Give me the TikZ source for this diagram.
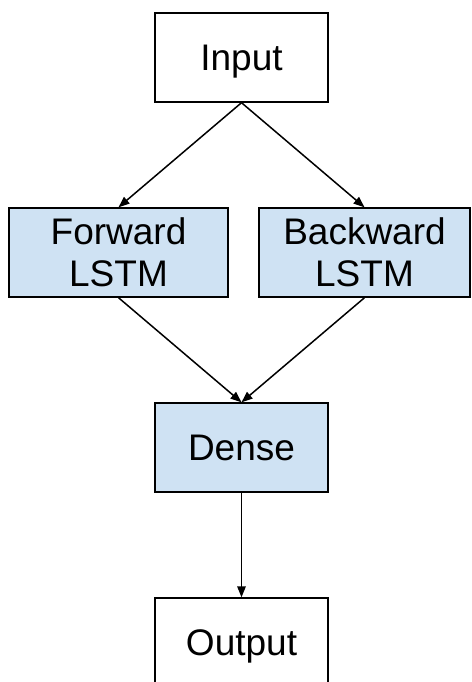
\documentclass[tikz,border=0pt]{standalone}
\usepackage{fontspec}
\setmainfont{Liberation Sans}
\usetikzlibrary{arrows.meta}
\definecolor{boxblue}{HTML}{CFE2F3}
\begin{document}
\begin{tikzpicture}[x=1pt,y=-1pt,
  box/.style={draw=black,line width=1.4pt,inner sep=0pt,minimum height=89pt,align=center,
    text depth=0pt,font=\fontsize{37}{42}\selectfont},
  plainbox/.style={box,fill=white},
  bluebox/.style={box,fill=boxblue},
  arr/.style={line width=1.5pt,-{Triangle[length=11pt,width=8.5pt]}}]
\useasboundingbox (0,0) rectangle (471,682);
\clip (0,0) rectangle (471,682);
\node[plainbox,minimum width=173pt] (input) at (241.5,57.5) {Input};
\node[bluebox,minimum width=219pt] (fwd) at (118.5,252.5) {Forward\\LSTM};
\node[bluebox,minimum width=211pt] (bwd) at (364.5,252.5) {Backward\\LSTM};
\node[bluebox,minimum width=173pt] (dense) at (241.5,447.5) {Dense};
\node[plainbox,minimum width=173pt] (output) at (241.5,642.5) {Output};
\draw[arr] (input.south) -- (fwd.north);
\draw[arr] (input.south) -- (bwd.north);
\draw[arr] (fwd.south) -- (dense.north);
\draw[arr] (bwd.south) -- (dense.north);
\draw[arr] (dense.south) -- (output.north);
\end{tikzpicture}
\end{document}
